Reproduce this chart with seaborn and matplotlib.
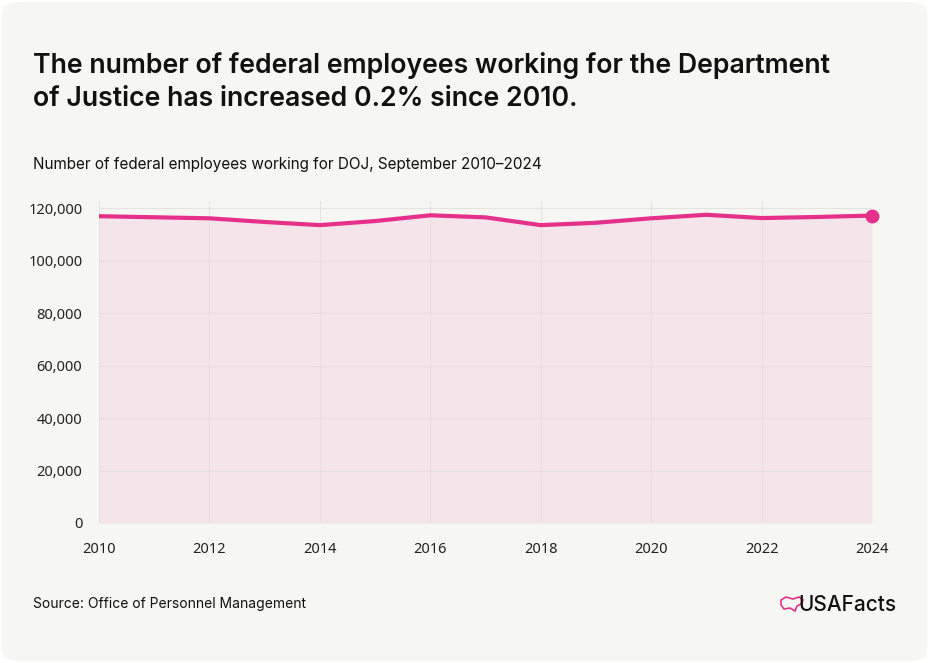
import matplotlib
matplotlib.use("Agg")
import matplotlib.pyplot as plt
import seaborn as sns
import pandas as pd
from matplotlib.patches import FancyBboxPatch, Polygon

years = [2010, 2011, 2012, 2013, 2014, 2015, 2016, 2017, 2018, 2019, 2020, 2021, 2022, 2023, 2024]
employees = [117000, 116600, 116200, 114800, 113600, 115150, 117350, 116550, 113600, 114500,
             116200, 117550, 116300, 116700, 117250]
xticks = [2010, 2012, 2014, 2016, 2018, 2020, 2022, 2024]
yticks = [0, 20000, 40000, 60000, 80000, 100000, 120000]

title = "The number of federal employees working for the Department\nof Justice has increased 0.2% since 2010."
subtitle = "Number of federal employees working for DOJ, September 2010\u20132024"
source = "Source: Office of Personnel Management"

df = pd.DataFrame({"year": years, "employees": employees})

sns.set_theme(style="white")
plt.rcParams['font.family'] = ['Inter', 'DejaVu Sans']

BG = "#f6f6f2"
PINK = "#e5318b"
FILL = "#f5e4ea"
GRID = "#e3dfdf"

fig = plt.figure(figsize=(9.29, 6.63), dpi=100)
fig.patch.set_facecolor("white")
card = FancyBboxPatch((0.002, 0.003), 0.996, 0.994, boxstyle="round,pad=0,rounding_size=0.018",
                      transform=fig.transFigure, facecolor=BG, edgecolor="none", zorder=-10)
fig.patches.append(card)

ax = fig.add_axes([99/929, 1-523/663, (872-99)/929, (523-201)/663])
ax.set_facecolor("none")
ax.fill_between(df["year"], 0, df["employees"], color=FILL, linewidth=0, zorder=1)
sns.lineplot(data=df, x="year", y="employees", ax=ax, color=PINK, linewidth=3, zorder=3)
ax.plot([years[-1]], [employees[-1]], "o", color=PINK, markersize=9, zorder=4, clip_on=False)

ax.set_xlim(2010, 2024)
ax.set_ylim(0, 122800)
ax.set_xticks(xticks)
ax.set_yticks(yticks)
ax.set_xticklabels([str(x) for x in xticks], fontsize=10.5, family=['Noto Sans', 'DejaVu Sans'])
ax.set_yticklabels([f"{y:,}" for y in yticks], fontsize=10.5, family=['Noto Sans', 'DejaVu Sans'])
ax.tick_params(axis="both", length=0, colors="#222222")
ax.tick_params(axis="x", pad=14)
ax.tick_params(axis="y", pad=12)
ax.set_xlabel("")
ax.set_ylabel("")
ax.set_axisbelow(False)
ax.grid(True, color=GRID, linewidth=0.8, alpha=0.8, zorder=2)
for s in ax.spines.values():
    s.set_visible(False)

fig.text(33/929, 1-52/663, title, fontsize=19.2, fontweight="semibold", color="#111111",
         va="top", ha="left", linespacing=1.35)
fig.text(33/929, 1-164/663, subtitle, fontsize=11, color="#111111", va="center", ha="left")
fig.text(33/929, 1-604/663, source, fontsize=10, color="#111111", va="center", ha="left")

fig.text(897/929, 1-605/663, "USAFacts", fontsize=15, fontweight="medium", color="#111111",
         va="center", ha="right")
# small map-like outline for the logo
pts = [(781, 600), (786, 597), (793, 599), (799, 597), (803, 600), (801, 604),
       (797, 606), (795, 611), (790, 608), (784, 609), (781, 605)]
logo = Polygon([(x/929, 1-y/663) for x, y in pts], closed=True, transform=fig.transFigure,
               facecolor="none", edgecolor=PINK, linewidth=1.2)
fig.patches.append(logo)

fig.savefig("out.png", dpi=100, facecolor=fig.get_facecolor())
